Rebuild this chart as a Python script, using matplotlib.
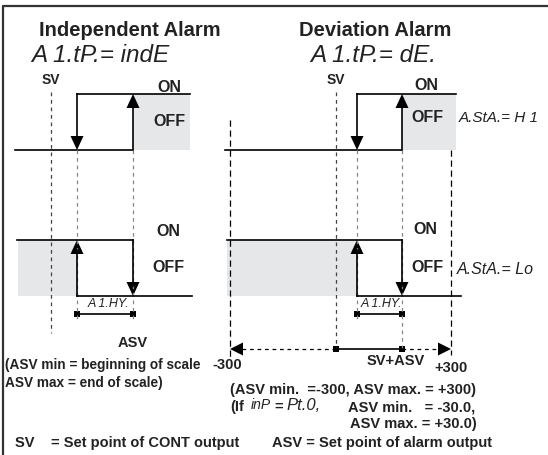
import matplotlib
matplotlib.use("Agg")
import matplotlib.pyplot as plt
from matplotlib.patches import Polygon, Rectangle

# --- diagram geometry (pixel coordinates of the original drawing) ---
LEVEL_Y = [94, 150, 240, 296]          # upper ON, upper OFF, lower ON, lower OFF
IND_X = {"sv": 51, "lo": 77, "hi": 133, "start": 15, "end": 190}
DEV_X = {"m300": 230, "sv": 336, "lo": 357, "hi": 402, "p300": 451,
         "start": 225, "end": 456}
RANGE_Y = 349
HYS_Y = 314

titles = ["Independent Alarm", "Deviation Alarm"]
codes = ["A 1.tP.= indE", "A 1.tP.= dE."]
range_labels = ["-300", "SV+ASV", "+300"]
notes_left = ["(ASV min = beginning of scale", "ASV max = end of scale)"]
notes_right = ["(ASV min.  =-300, ASV max. = +300)",
               "(If",
               "ASV min.   = -30.0,",
               "ASV max. = +30.0)"]
legend_text = ["SV    = Set point of CONT output", "ASV = Set point of alarm output"]

GRAY = "#e6e7e8"
LW = 1.2
SEG = dict(family="Liberation Sans", style="italic", color="#222222")
BOLD = dict(family="Liberation Sans", weight="bold", color="#222222")
NOTE = 10.5

fig = plt.figure(figsize=(5.48, 4.55), dpi=100)
ax = fig.add_axes([0, 0, 1, 1])
ax.set_xlim(0, 548)
ax.set_ylim(455, 0)
ax.axis("off")


def arrow(x, y0, y1):
    # line from y0 to y1 with filled head at y1
    d = 1 if y1 > y0 else -1
    ax.plot([x, x], [y0, y1 - d * 10], color="black", lw=LW)
    ax.add_patch(Polygon([[x - 6.5, y1 - d * 14], [x + 6.5, y1 - d * 14], [x, y1]],
                         closed=True, color="black", lw=0))


def hline(x0, x1, y):
    ax.plot([x0, x1], [y, y], color="black", lw=LW)


def vdash(x, y0, y1, color="#555555", dash=(3, 3)):
    ax.plot([x, x], [y0, y1], color=color, lw=0.9, dashes=dash)


def square(x, y):
    ax.add_patch(Rectangle((x - 3, y - 3), 6, 6, color="black", lw=0))


# frame
ax.plot([2.5, 2.5, 548], [455, 5.5, 5.5], color="#333333", lw=1.6)

# titles
ax.text(130, 31, titles[0], ha="center", va="center", fontsize=14.5, **BOLD)
ax.text(375, 31, titles[1], ha="center", va="center", fontsize=14.5, **BOLD)
ax.text(31, 56, codes[0], ha="left", va="center", fontsize=17.5, **SEG)
ax.text(310, 56, codes[1], ha="left", va="center", fontsize=17.5, **SEG)

# ---------------- independent alarm ----------------
ix = IND_X
ax.text(ix["sv"], 80, "SV", ha="center", va="center", fontsize=10, **BOLD)
vdash(ix["sv"], 92, 333, color="#444444")
ax.add_patch(Rectangle((ix["hi"], LEVEL_Y[0]), ix["end"] - ix["hi"],
                       LEVEL_Y[1] - LEVEL_Y[0], color=GRAY, lw=0))
hline(ix["start"], ix["hi"], LEVEL_Y[1])
hline(ix["lo"], ix["end"], LEVEL_Y[0])
arrow(ix["lo"], LEVEL_Y[0], LEVEL_Y[1])
arrow(ix["hi"], LEVEL_Y[1], LEVEL_Y[0])
ax.text(169, 88, "ON", ha="center", va="center", fontsize=11.5, **BOLD)
ax.text(169, 122, "OFF", ha="center", va="center", fontsize=11.5, **BOLD)
vdash(ix["lo"], LEVEL_Y[1], 322, color="#888888")
vdash(ix["hi"], LEVEL_Y[1], 322, color="#888888")

ax.add_patch(Rectangle((18, LEVEL_Y[2]), ix["lo"] - 18,
                       LEVEL_Y[3] - LEVEL_Y[2], color=GRAY, lw=0))
hline(17, ix["hi"], LEVEL_Y[2])
hline(ix["lo"], 192, LEVEL_Y[3])
arrow(ix["lo"], LEVEL_Y[3], LEVEL_Y[2])
arrow(ix["hi"], LEVEL_Y[2], LEVEL_Y[3])
ax.text(168, 232, "ON", ha="center", va="center", fontsize=11.5, **BOLD)
ax.text(168, 268, "OFF", ha="center", va="center", fontsize=11.5, **BOLD)
ax.text((ix["lo"] + ix["hi"]) / 2 + 3, 304, "A 1.HY.", ha="center", va="center",
        fontsize=9, **SEG)
hline(ix["lo"], ix["hi"], HYS_Y)
square(ix["lo"], HYS_Y)
square(ix["hi"], HYS_Y)
ax.text(ix["hi"], 343, "ASV", ha="center", va="center", fontsize=NOTE, **BOLD)
ax.text(5, 365, notes_left[0], ha="left", va="center", fontsize=9.8, **BOLD)
ax.text(5, 383, notes_left[1], ha="left", va="center", fontsize=9.8, **BOLD)

# ---------------- deviation alarm ----------------
dx = DEV_X
ax.text(dx["sv"], 80, "SV", ha="center", va="center", fontsize=10, **BOLD)
vdash(dx["sv"], 92, RANGE_Y, color="#444444")
vdash(dx["m300"], 120, 357, color="black", dash=(5, 3))
vdash(dx["p300"], 150, 355, color="black", dash=(5, 3))
ax.add_patch(Rectangle((dx["hi"], LEVEL_Y[0]), dx["end"] - dx["hi"],
                       LEVEL_Y[1] - LEVEL_Y[0], color=GRAY, lw=0))
hline(dx["start"], dx["hi"], LEVEL_Y[1])
hline(dx["lo"], dx["end"], LEVEL_Y[0])
arrow(dx["lo"], LEVEL_Y[0], LEVEL_Y[1])
arrow(dx["hi"], LEVEL_Y[1], LEVEL_Y[0])
ax.text(426, 85, "ON", ha="center", va="center", fontsize=11.5, **BOLD)
ax.text(427, 118, "OFF", ha="center", va="center", fontsize=11.5, **BOLD)
ax.text(459, 118, "A.StA.= H 1", ha="left", va="center", fontsize=11, **SEG)
vdash(dx["lo"], LEVEL_Y[1], 322, color="#888888")
vdash(dx["hi"], LEVEL_Y[1], RANGE_Y, color="#888888")

ax.add_patch(Rectangle((227, LEVEL_Y[2]), dx["lo"] - 227,
                       LEVEL_Y[3] - LEVEL_Y[2], color=GRAY, lw=0))
hline(227, dx["hi"], LEVEL_Y[2])
hline(dx["lo"], 461, LEVEL_Y[3])
arrow(dx["lo"], LEVEL_Y[3], LEVEL_Y[2])
arrow(dx["hi"], LEVEL_Y[2], LEVEL_Y[3])
ax.text(425, 229, "ON", ha="center", va="center", fontsize=11.5, **BOLD)
ax.text(427, 267, "OFF", ha="center", va="center", fontsize=11.5, **BOLD)
ax.text(457, 269, "A.StA.= Lo", ha="left", va="center", fontsize=11.5, **SEG)
ax.text((dx["lo"] + dx["hi"]) / 2 + 2, 304, "A 1.HY.", ha="center", va="center",
        fontsize=9, **SEG)
hline(dx["lo"], dx["hi"], HYS_Y)
square(dx["lo"], HYS_Y)
square(dx["hi"], HYS_Y)

# range line -300 ... +300
ax.plot([dx["m300"] + 12, dx["sv"]], [RANGE_Y, RANGE_Y], color="black",
        lw=0.9, dashes=(3, 3))
ax.plot([dx["hi"], dx["p300"] - 12], [RANGE_Y, RANGE_Y], color="black",
        lw=0.9, dashes=(3, 3))
hline(dx["sv"], dx["hi"], RANGE_Y)
ax.add_patch(Polygon([[dx["m300"], RANGE_Y], [dx["m300"] + 13, RANGE_Y - 6.5],
                      [dx["m300"] + 13, RANGE_Y + 6.5]], color="black", lw=0))
ax.add_patch(Polygon([[dx["p300"], RANGE_Y], [dx["p300"] - 13, RANGE_Y - 6.5],
                      [dx["p300"] - 13, RANGE_Y + 6.5]], color="black", lw=0))
square(dx["sv"], RANGE_Y)
square(dx["hi"], RANGE_Y)
ax.text(227, 365, range_labels[0], ha="center", va="center", fontsize=NOTE, **BOLD)
ax.text(396, 361, range_labels[1], ha="center", va="center", fontsize=NOTE, **BOLD)
ax.text(451, 368, range_labels[2], ha="center", va="center", fontsize=NOTE, **BOLD)

ax.text(230, 390, notes_right[0], ha="left", va="center", fontsize=NOTE, **BOLD)
ax.text(230, 407, notes_right[1], ha="left", va="center", fontsize=NOTE, **BOLD)
ax.text(251, 405, "inP", ha="left", va="center", fontsize=10, **SEG)
ax.text(274, 407, "=", ha="left", va="center", fontsize=NOTE, **BOLD)
ax.text(286, 405, "Pt.0,", ha="left", va="center", fontsize=12, **SEG)
ax.text(348, 407, notes_right[2], ha="left", va="center", fontsize=NOTE, **BOLD)
ax.text(350, 424, notes_right[3], ha="left", va="center", fontsize=NOTE, **BOLD)

ax.text(15, 443, legend_text[0], ha="left", va="center", fontsize=NOTE, **BOLD)
ax.text(272, 443, legend_text[1], ha="left", va="center", fontsize=NOTE, **BOLD)

fig.savefig("out.png", dpi=100)
